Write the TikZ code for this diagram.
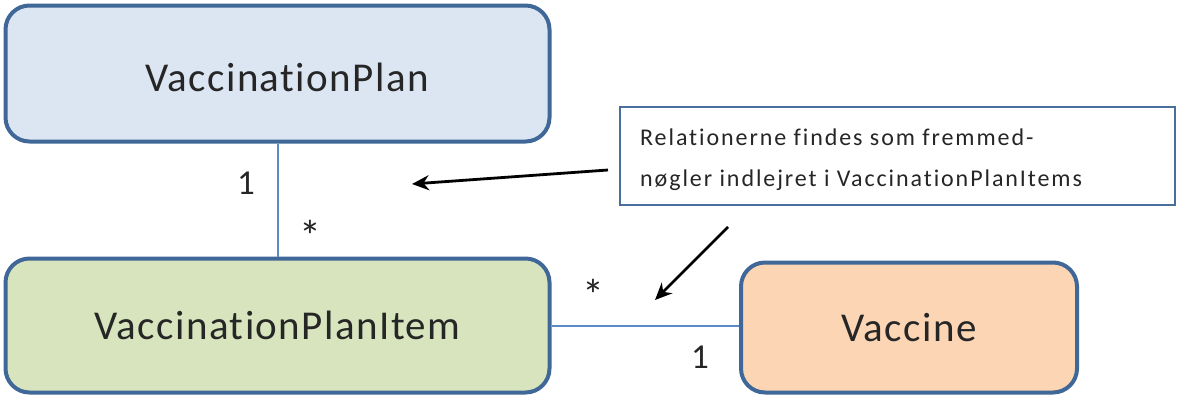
\documentclass[tikz,border=0pt]{standalone}
\usepackage{fontspec}
\setmainfont{Carlito}
\newfontfamily\wideA[LetterSpace=3.5,Ligatures=NoCommon]{Carlito}
\newfontfamily\wideB[LetterSpace=8,Ligatures=NoCommon]{Carlito}
\usetikzlibrary{arrows.meta}
\definecolor{bordblue}{HTML}{3F6797}
\definecolor{lineblue}{HTML}{5B8BC6}
\definecolor{planfill}{HTML}{DCE6F2}
\definecolor{itemfill}{HTML}{D7E4BD}
\definecolor{vacfill}{HTML}{FCD5B5}
\tikzset{
  entity/.style={draw=bordblue, line width=4pt, rounded corners=24pt, inner sep=0pt, font=\wideA\fontsize{41}{49}\selectfont, text=black!85},
  assoc/.style={draw=lineblue, line width=1.6pt},
  mult/.style={font=\fontsize{35}{40}\selectfont, text=black!85, inner sep=0pt},
  star/.style={font=\fontsize{44}{48}\selectfont, text=black!85, inner sep=0pt},
  notebox/.style={draw=lineblue!80!black, line width=2.6pt, fill=white, inner sep=0pt},
  pointer/.style={draw=black, line width=2.8pt, -{Stealth[length=17pt,width=15pt]}}
}
\begin{document}
\begin{tikzpicture}[x=1pt,y=-1pt]
\useasboundingbox (0,0) rectangle (1182,397);
\node[entity, fill=planfill, minimum width=544pt, minimum height=136pt] (plan) at (277.5,73.5) {};
\node[font=\wideA\fontsize{41}{49}\selectfont, text=black!85] (plantxt) at (287,77) {VaccinationPlan};
\node[entity, fill=itemfill, minimum width=544pt, minimum height=134pt] (item) at (277.5,325.5) {VaccinationPlanItem};
\node[entity, fill=vacfill, minimum width=336pt, minimum height=130pt] (vac) at (909,327.5) {Vaccine};
\draw[assoc] (plan.south -| 278,0) -- (item.north -| 278,0);
\draw[assoc] (item.east |- 0,326) -- (vac.west |- 0,326);
\node[mult] (m1) at (246,183) {1};
\node[star] (m2) at (310,236) {*};
\node[star] (m3) at (593,295) {*};
\node[mult] (m4) at (700,357) {1};
\node[notebox, minimum width=555pt, minimum height=98pt] (note) at (897.5,156) {};
\node[anchor=west, align=left, font=\wideB\fontsize{24}{41}\selectfont, text=black!85, inner sep=0pt] (notetxt) at (640,160) {Relationerne findes som fremmed-\\nøgler indlejret i VaccinationPlanItems};
\coordinate (t1) at (412,184);
\coordinate (s1) at (608,170);
\coordinate (t2) at (655,300);
\coordinate (s2) at (728,227);
\draw[pointer] (s1) -- (t1);
\draw[pointer] (s2) -- (t2);
\end{tikzpicture}
\end{document}
